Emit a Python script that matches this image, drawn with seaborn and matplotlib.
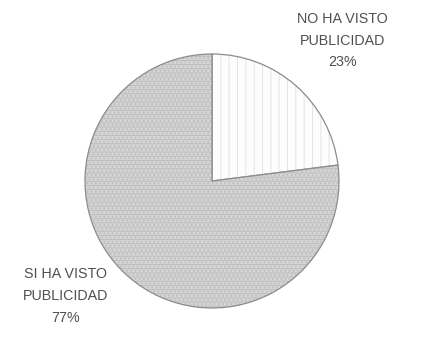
import matplotlib
matplotlib.use("Agg")
import matplotlib.pyplot as plt
import seaborn as sns

categories = ["NO HA VISTO\nPUBLICIDAD", "SI HA VISTO\nPUBLICIDAD"]
values = [23, 77]

sns.set_theme(style="white")
plt.rcParams["font.family"] = ["Liberation Sans", "DejaVu Sans"]
plt.rcParams["hatch.linewidth"] = 0.7

fig = plt.figure(figsize=(4.23, 3.53), dpi=100)
fig.patch.set_facecolor("white")
R = 127
cx, cy = 212, 353 - 181
ax = fig.add_axes([(cx - R) / 423, (cy - R) / 353, 2 * R / 423, 2 * R / 353])

wedges, _ = ax.pie(
    values,
    startangle=90,
    counterclock=False,
    radius=1.0,
    colors=["#fdfdfd", "#d6d6d6"],
    wedgeprops=dict(edgecolor="#8c8c8c", linewidth=0.9),
)
hatches = [("||", "#e4e4e4"), ("----....", "#bcbcbc")]
for w, (h, hc) in zip(wedges, hatches):
    w.set_hatch(h)
    if hasattr(w, "set_hatchcolor"):
        w.set_hatchcolor(hc)
    else:
        w._hatch_color = matplotlib.colors.to_rgba(hc)

label_pos = [(1.03, 1.105), (-1.15, -0.905)]
for cat, val, (x, y) in zip(categories, values, label_pos):
    ax.text(x, y, f"{cat}\n{val}%", ha="center", va="center",
            fontsize=10.3, color="#505050", linespacing=1.7, clip_on=False)

ax.set_xlim(-1, 1)
ax.set_ylim(-1, 1)
ax.set_aspect("equal")
ax.axis("off")

fig.savefig("out.png", dpi=100, facecolor="white")
